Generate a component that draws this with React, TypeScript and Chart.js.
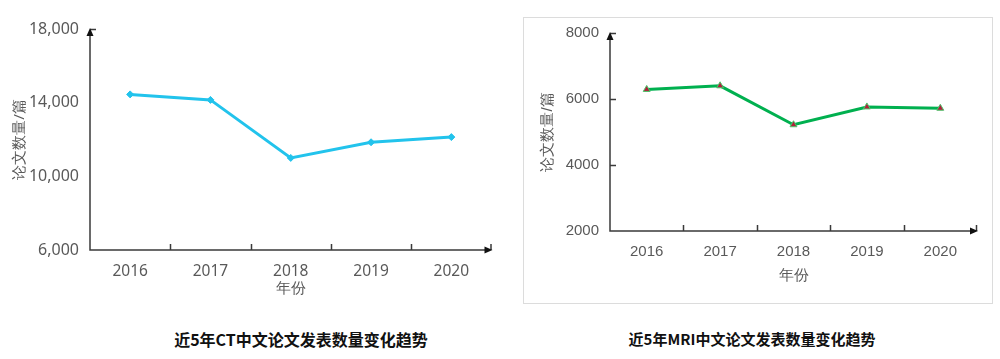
import React, { useEffect, useRef } from "react";
import { Chart, registerables } from "chart.js";

Chart.register(...registerables);

const years = ["2016", "2017", "2018", "2019", "2020"];
const ctValues = [14450, 14150, 11000, 11850, 12130];
const mriValues = [6290, 6400, 5220, 5760, 5720];
const ctTicks = [6000, 10000, 14000, 18000];
const mriTicks = [2000, 4000, 6000, 8000];
const yTitle = "论文数量/篇";
const xTitle = "年份";
const ctTitle = "近5年CT中文论文发表数量变化趋势";
const mriTitle = "近5年MRI中文论文发表数量变化趋势";

type Cfg = {
  values: number[];
  ticks: number[];
  comma: boolean;
  color: string;
  pointStyle: string;
  pointColor: string;
  pointBorder: string;
  pointRadius: number;
  font: string;
  ySize: number;
  xSize: number;
  width: number;
  height: number;
  padTop: number;
  padRight: number;
  yWidth: number;
  xHeight: number;
  yTitleX: number;
  xTitleY: number;
  yInnerTicks: boolean;
};

function axisPlugin(cfg: Cfg) {
  return {
    id: "axisDeco",
    afterDraw(chart: any) {
      const ctx = chart.ctx;
      const a = chart.chartArea;
      const x = chart.scales.x;
      const y = chart.scales.y;
      ctx.save();
      ctx.strokeStyle = "#3a3a3a";
      ctx.fillStyle = "#111";
      ctx.lineWidth = 1.5;
      ctx.beginPath();
      ctx.moveTo(a.left, a.top + 4);
      ctx.lineTo(a.left, a.bottom);
      ctx.lineTo(a.right - 4, a.bottom);
      ctx.stroke();
      const n = chart.data.labels.length;
      ctx.beginPath();
      for (let i = 1; i <= n; i++) {
        const p0 = x.getPixelForValue(i - 1);
        const p1 = i < n ? x.getPixelForValue(i) : p0 + (p0 - x.getPixelForValue(i - 2));
        const px = Math.round((p0 + p1) / 2) + 0.5;
        ctx.moveTo(Math.min(px, a.right - 0.5), a.bottom);
        ctx.lineTo(Math.min(px, a.right - 0.5), a.bottom - 6);
      }
      const tks = cfg.yInnerTicks ? cfg.ticks.slice(1) : [cfg.ticks[cfg.ticks.length - 1]];
      for (const t of tks) {
        const py = Math.round(y.getPixelForValue(t)) + 0.5;
        ctx.moveTo(a.left, py);
        ctx.lineTo(a.left + 6, py);
      }
      ctx.stroke();
      ctx.beginPath();
      ctx.moveTo(a.left, a.top - 1);
      ctx.lineTo(a.left - 3.5, a.top + 7);
      ctx.lineTo(a.left + 3.5, a.top + 7);
      ctx.closePath();
      ctx.fill();
      ctx.beginPath();
      ctx.moveTo(a.right + 1, a.bottom);
      ctx.lineTo(a.right - 7, a.bottom - 3.5);
      ctx.lineTo(a.right - 7, a.bottom + 3.5);
      ctx.closePath();
      ctx.fill();
      ctx.fillStyle = "#595959";
      ctx.font = `15px ${cfg.font}`;
      ctx.textAlign = "center";
      ctx.textBaseline = "middle";
      ctx.fillText(xTitle, (a.left + a.right) / 2, cfg.xTitleY);
      ctx.translate(cfg.yTitleX, (a.top + a.bottom) / 2);
      ctx.rotate(-Math.PI / 2);
      ctx.fillText(yTitle, 0, 0);
      ctx.restore();
    },
  };
}

function LineChart({ cfg, style }: { cfg: Cfg; style: React.CSSProperties }) {
  const ref = useRef<HTMLCanvasElement>(null);
  useEffect(() => {
    if (!ref.current) return;
    const chart = new Chart(ref.current, {
      type: "line",
      data: {
        labels: years,
        datasets: [
          {
            data: cfg.values,
            borderColor: cfg.color,
            borderWidth: 3,
            pointStyle: cfg.pointStyle as any,
            pointRadius: cfg.pointRadius,
            pointBackgroundColor: cfg.pointColor,
            pointBorderColor: cfg.pointBorder,
            pointBorderWidth: 1,
            tension: 0,
          },
        ],
      },
      options: {
        animation: false,
        responsive: false,
        maintainAspectRatio: false,
        layout: { padding: { top: cfg.padTop, right: cfg.padRight, left: 0, bottom: 0 } },
        plugins: { legend: { display: false }, tooltip: { enabled: false } },
        scales: {
          x: {
            type: "category",
            offset: true,
            grid: { display: false, drawTicks: false },
            border: { display: false },
            ticks: { color: "#595959", font: { family: cfg.font, size: cfg.xSize }, padding: 12, maxRotation: 0 },
            afterFit: (s: any) => {
              s.height = cfg.xHeight;
            },
          },
          y: {
            min: cfg.ticks[0],
            max: cfg.ticks[cfg.ticks.length - 1],
            grid: { display: false, drawTicks: false },
            border: { display: false },
            afterBuildTicks: (s: any) => {
              s.ticks = cfg.ticks.map((v) => ({ value: v }));
            },
            ticks: {
              color: "#595959",
              font: { family: cfg.font, size: cfg.ySize },
              padding: 11,
              callback: (v: any) => (cfg.comma ? Number(v).toLocaleString("en-US") : String(v)),
            },
            afterFit: (s: any) => {
              s.width = cfg.yWidth;
            },
          },
        },
      },
      plugins: [axisPlugin(cfg)],
    });
    return () => chart.destroy();
  }, []);
  return <canvas ref={ref} width={cfg.width} height={cfg.height} style={{ position: "absolute", ...style }} />;
}

const ctCfg: Cfg = {
  values: ctValues,
  ticks: ctTicks,
  comma: true,
  color: "#22c3ec",
  pointStyle: "rectRot",
  pointColor: "#22c3ec",
  pointBorder: "#22c3ec",
  pointRadius: 3.5,
  font: "'Noto Sans', sans-serif",
  ySize: 16,
  xSize: 15.5,
  width: 500,
  height: 300,
  padTop: 29,
  padRight: 8.5,
  yWidth: 90,
  xHeight: 50,
  yTitleX: 20,
  xTitleY: 289,
  yInnerTicks: false,
};

const mriCfg: Cfg = {
  values: mriValues,
  ticks: mriTicks,
  comma: false,
  color: "#00b04f",
  pointStyle: "triangle",
  pointColor: "#b0203c",
  pointBorder: "#4cc46a",
  pointRadius: 4,
  font: "'Liberation Sans', Arial, sans-serif",
  ySize: 15,
  xSize: 15,
  width: 500,
  height: 310,
  padTop: 33,
  padRight: 23,
  yWidth: 110,
  xHeight: 79,
  yTitleX: 48,
  xTitleY: 276,
  yInnerTicks: true,
};

export default function App() {
  const titleStyle: React.CSSProperties = {
    position: "absolute",
    top: 329,
    fontFamily: "'Noto Sans CJK SC', sans-serif",
    fontWeight: 700,
    lineHeight: "20px",
    color: "#111",
    whiteSpace: "nowrap",
    transform: "translateX(-50%)",
  };
  return (
    <div style={{ position: "absolute", left: 0, top: 0, width: 1000, height: 359, background: "#fff", overflow: "hidden" }}>
      <div
        style={{
          position: "absolute",
          left: 523,
          top: 17,
          width: 468,
          height: 285,
          border: "1px solid #dcdcdc",
        }}
      />
      <LineChart cfg={ctCfg} style={{ left: 0, top: 0 }} />
      <LineChart cfg={mriCfg} style={{ left: 500, top: 0 }} />
      <div style={{ ...titleStyle, left: 301, fontSize: 16 }}>{ctTitle}</div>
      <div style={{ ...titleStyle, left: 752, fontSize: 15 }}>{mriTitle}</div>
    </div>
  );
}
